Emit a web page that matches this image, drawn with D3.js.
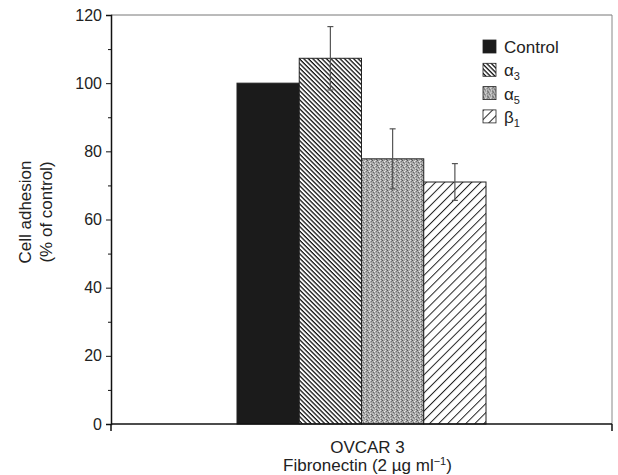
<!DOCTYPE html>
<html>
<head>
<meta charset="utf-8">
<script src="https://cdn.jsdelivr.net/npm/d3@7"></script>
<style>
  body { margin: 0; background: #fff; }
  text { font-family: "Liberation Sans", Arial, sans-serif; fill: #222; }
</style>
</head>
<body>
<svg id="chart" width="618" height="475"></svg>
<script>
// data
const categories = ['OVCAR 3'];
const seriesNames = ['Control', 'a3', 'a5', 'b1'];
const values = [100, 107.3, 77.8, 71];
const errors = [0, 9.3, 8.8, 5.4];
const yTicks = [0, 20, 40, 60, 80, 100, 120];
const yMinorTicks = [10, 30, 50, 70, 90, 110];

const margin = { top: 15, right: 6, bottom: 51, left: 111 };
const width = 618;
const height = 475;

const svg = d3.select('#chart');
const defs = svg.append('defs');

// fill patterns
// dense "\" hatch
const hatchBack = defs.append('pattern')
    .attr('id', 'hatch-back')
    .attr('patternUnits', 'userSpaceOnUse')
    .attr('width', 3.2).attr('height', 3.2)
    .attr('patternTransform', 'rotate(45)');
hatchBack.append('rect').attr('width', 3.2).attr('height', 3.2).attr('fill', '#fff');
hatchBack.append('line').attr('x1', 0).attr('y1', 0).attr('x2', 3.2).attr('y2', 0)
    .attr('stroke', '#111').attr('stroke-width', 2.6);

// sparse "/" hatch
const hatchFwd = defs.append('pattern')
    .attr('id', 'hatch-fwd')
    .attr('patternUnits', 'userSpaceOnUse')
    .attr('width', 6.4).attr('height', 6.4)
    .attr('patternTransform', 'rotate(-45)');
hatchFwd.append('rect').attr('width', 6.4).attr('height', 6.4).attr('fill', '#fff');
hatchFwd.append('line').attr('x1', 0).attr('y1', 0).attr('x2', 6.4).attr('y2', 0)
    .attr('stroke', '#222').attr('stroke-width', 2);

// grey stipple
const stipple = defs.append('pattern')
    .attr('id', 'stipple')
    .attr('patternUnits', 'userSpaceOnUse')
    .attr('width', 5).attr('height', 5);
stipple.append('rect').attr('width', 5).attr('height', 5).attr('fill', '#a8a8a8');
[[0, 0, '#555'], [2, 1, '#eee'], [1, 2, '#666'], [3, 3, '#ddd'], [4, 1, '#777'],
 [1, 4, '#ccc'], [4, 4, '#666'], [2, 3, '#888'], [3, 0, '#ddd'], [0, 3, '#bbb']]
    .forEach(([x, y, c]) => stipple.append('rect')
        .attr('x', x).attr('y', y).attr('width', 1).attr('height', 1).attr('fill', c));

const fills = {
    Control: '#1b1b1b',
    a3: 'url(#hatch-back)',
    a5: 'url(#stipple)',
    b1: 'url(#hatch-fwd)'
};

const x0 = d3.scaleBand()
    .domain(categories)
    .range([margin.left, width - margin.right])
    .paddingInner(0)
    .paddingOuter(0.506);

const x1 = d3.scaleBand()
    .domain(seriesNames)
    .range([0, x0.bandwidth()]);

const y = d3.scaleLinear()
    .domain([0, 120])
    .range([height - margin.bottom, margin.top]);

// frame
svg.append('line')
    .attr('x1', margin.left).attr('x2', width - margin.right)
    .attr('y1', y(120)).attr('y2', y(120))
    .attr('stroke', '#777').attr('stroke-width', 1);
svg.append('line')
    .attr('x1', width - margin.right).attr('x2', width - margin.right)
    .attr('y1', y(120)).attr('y2', y(0))
    .attr('stroke', '#888').attr('stroke-width', 1);

// bars
const group = svg.append('g')
    .attr('transform', `translate(${x0(categories[0])},0)`);

group.selectAll('.bar')
    .data(seriesNames)
    .enter()
    .append('rect')
    .attr('class', 'bar')
    .attr('x', d => x1(d))
    .attr('y', (d, i) => y(values[i]))
    .attr('width', x1.bandwidth())
    .attr('height', (d, i) => y(0) - y(values[i]))
    .attr('fill', d => fills[d])
    .attr('stroke', '#222')
    .attr('stroke-width', 1);

// error bars
const err = group.selectAll('.err')
    .data(seriesNames.filter((d, i) => errors[i] > 0))
    .enter()
    .append('g')
    .attr('class', 'err')
    .attr('stroke', '#555')
    .attr('stroke-width', 1.2);

const cx = d => x1(d) + x1.bandwidth() / 2;
const hi = d => { const i = seriesNames.indexOf(d); return y(values[i] + errors[i]); };
const lo = d => { const i = seriesNames.indexOf(d); return y(values[i] - errors[i]); };

err.append('line')
    .attr('x1', cx).attr('x2', cx)
    .attr('y1', hi).attr('y2', lo);
[hi, lo].forEach(f => {
    err.append('line')
        .attr('x1', d => cx(d) - 3).attr('x2', d => cx(d) + 3)
        .attr('y1', f).attr('y2', f);
});

// y axis
const yAxis = svg.append('g')
    .attr('transform', `translate(${margin.left},0)`)
    .call(d3.axisLeft(y).tickValues(yTicks).tickSize(5).tickPadding(4));
yAxis.select('.domain').attr('stroke', '#111').attr('stroke-width', 1.5);
yAxis.selectAll('.tick line').attr('stroke', '#111');
yAxis.selectAll('.tick text').style('font-size', '16px').attr('fill', '#222');

svg.append('g')
    .attr('transform', `translate(${margin.left},0)`)
    .call(d3.axisLeft(y).tickValues(yMinorTicks).tickSize(3).tickFormat(''))
    .call(g => g.select('.domain').remove())
    .selectAll('.tick line').attr('stroke', '#111');

// x axis
const xAxis = svg.append('g')
    .attr('transform', `translate(0,${y(0)})`);
xAxis.append('line')
    .attr('x1', margin.left).attr('x2', width - margin.right)
    .attr('stroke', '#111').attr('stroke-width', 1.5);
xAxis.selectAll('.end-tick')
    .data(x0.range())
    .enter()
    .append('line')
    .attr('class', 'end-tick')
    .attr('x1', d => d).attr('x2', d => d)
    .attr('y1', 0).attr('y2', 7)
    .attr('stroke', '#111').attr('stroke-width', 1.5);

const xMid = x0(categories[0]) + x0.bandwidth() / 2 + 6;
const xLabel = svg.append('text')
    .attr('text-anchor', 'middle')
    .style('font-size', '17px');
xLabel.append('tspan')
    .attr('x', xMid)
    .attr('y', 453)
    .text(categories[0]);
const line2 = xLabel.append('tspan')
    .attr('x', xMid)
    .attr('y', 471)
    .text('Fibronectin (2 \u00b5g ml');
line2.append('tspan').attr('dy', -6).style('font-size', '11px').text('\u22121');
line2.append('tspan').attr('dy', 6).text(')');

// y label
const yLabel = svg.append('text')
    .attr('text-anchor', 'middle')
    .attr('transform', 'translate(31,212) rotate(-90)')
    .style('font-size', '17px');
yLabel.append('tspan').attr('x', 0).attr('y', 0).text('Cell adhesion');
yLabel.append('tspan').attr('x', 0).attr('y', 21).text('(% of control)');

// legend
const legendLabels = [
    { key: 'Control', base: 'Control', sub: '' },
    { key: 'a3', base: '\u03b1', sub: '3' },
    { key: 'a5', base: '\u03b1', sub: '5' },
    { key: 'b1', base: '\u03b2', sub: '1' }
];

const legend = svg.append('g')
    .attr('transform', 'translate(483,40)');

const item = legend.selectAll('.legend-item')
    .data(legendLabels)
    .enter()
    .append('g')
    .attr('class', 'legend-item')
    .attr('transform', (d, i) => `translate(0,${i * 23.3})`);

item.append('rect')
    .attr('width', 13).attr('height', 13)
    .attr('fill', d => fills[d.key])
    .attr('stroke', '#222').attr('stroke-width', 0.8);

const label = item.append('text')
    .attr('x', 21).attr('y', 13)
    .style('font-size', '17px');
label.append('tspan').text(d => d.base);
label.append('tspan')
    .attr('dy', 4)
    .style('font-size', '11px')
    .text(d => d.sub);
</script>
</body>
</html>
